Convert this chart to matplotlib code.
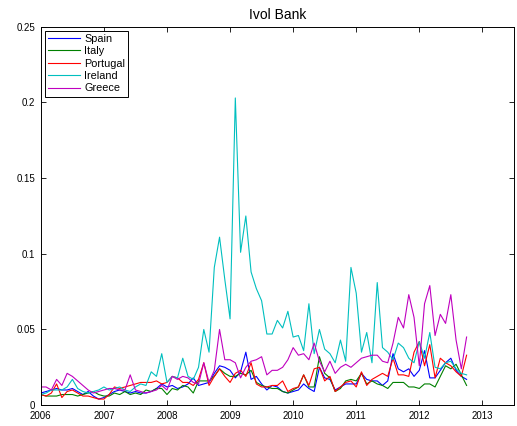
import numpy as np
import matplotlib
matplotlib.use('Agg')
import matplotlib.pyplot as plt

plt.rcParams['font.family'] = ['Liberation Sans', 'DejaVu Sans']

# monthly observations, Jan 2006 - Oct 2012
months = np.arange(82)
dates = 2006 + months / 12.0

spain = [0.008, 0.009, 0.010, 0.011, 0.010, 0.010, 0.011, 0.009, 0.007, 0.009, 0.006, 0.004,
         0.005, 0.007, 0.009, 0.010, 0.009, 0.008, 0.009, 0.008, 0.008, 0.009, 0.011,
         0.014, 0.012, 0.013, 0.011, 0.012, 0.014, 0.018, 0.013, 0.014, 0.015, 0.021, 0.026,
         0.025, 0.023, 0.018, 0.022, 0.035, 0.017, 0.019, 0.014, 0.010, 0.013, 0.012,
         0.009, 0.008, 0.009, 0.010, 0.014, 0.011, 0.009, 0.025, 0.018, 0.017, 0.010, 0.012,
         0.014, 0.014, 0.014, 0.021, 0.017, 0.016, 0.016, 0.013, 0.016,
         0.034, 0.024, 0.022, 0.024, 0.019, 0.023, 0.036, 0.018, 0.018, 0.023, 0.028, 0.031,
         0.023, 0.019, 0.017]
italy = [0.007, 0.006, 0.006, 0.006, 0.007, 0.007, 0.007, 0.006, 0.007, 0.008, 0.009, 0.007,
         0.006, 0.006, 0.008, 0.007, 0.009, 0.007, 0.008, 0.007, 0.010, 0.009, 0.011,
         0.011, 0.007, 0.011, 0.010, 0.013, 0.012, 0.008, 0.016, 0.016, 0.016, 0.019, 0.024,
         0.021, 0.019, 0.019, 0.021, 0.020, 0.023, 0.015, 0.013, 0.012, 0.011, 0.011,
         0.009, 0.008, 0.010, 0.012, 0.020, 0.012, 0.012, 0.032, 0.021, 0.018, 0.009, 0.011,
         0.016, 0.017, 0.016, 0.021, 0.014, 0.016, 0.014, 0.013, 0.011,
         0.015, 0.015, 0.015, 0.012, 0.012, 0.011, 0.014, 0.014, 0.012, 0.019, 0.026, 0.024,
         0.027, 0.020, 0.013]
portugal = [0.007, 0.006, 0.008, 0.014, 0.005, 0.009, 0.010, 0.008, 0.006, 0.006, 0.005, 0.004,
            0.004, 0.007, 0.012, 0.011, 0.012, 0.013, 0.014, 0.015, 0.015, 0.015, 0.016,
            0.014, 0.015, 0.019, 0.018, 0.015, 0.015, 0.013, 0.017, 0.028, 0.013, 0.019, 0.024,
            0.019, 0.015, 0.021, 0.023, 0.019, 0.028, 0.014, 0.012, 0.012, 0.013, 0.013,
            0.016, 0.009, 0.011, 0.012, 0.020, 0.013, 0.024, 0.025, 0.016, 0.019, 0.009, 0.012,
            0.015, 0.016, 0.012, 0.022, 0.013, 0.017, 0.019, 0.021, 0.019,
            0.031, 0.020, 0.020, 0.019, 0.035, 0.042, 0.026, 0.040, 0.018, 0.031, 0.028, 0.026,
            0.022, 0.019, 0.033]
ireland = [0.007, 0.008, 0.010, 0.010, 0.010, 0.012, 0.017, 0.011, 0.009, 0.008, 0.009, 0.010,
           0.012, 0.010, 0.011, 0.012, 0.010, 0.009, 0.012, 0.014, 0.013, 0.022, 0.019,
           0.034, 0.015, 0.019, 0.018, 0.031, 0.019, 0.017, 0.025, 0.050, 0.035, 0.091, 0.111,
           0.083, 0.057, 0.203, 0.101, 0.125, 0.088, 0.077, 0.069, 0.047, 0.047, 0.056,
           0.051, 0.062, 0.045, 0.046, 0.036, 0.067, 0.034, 0.050, 0.037, 0.034, 0.028, 0.043,
           0.029, 0.091, 0.074, 0.035, 0.048, 0.028, 0.081, 0.038, 0.035,
           0.030, 0.041, 0.038, 0.031, 0.028, 0.042, 0.031, 0.048, 0.025, 0.024, 0.028, 0.029,
           0.024, 0.021, 0.020]
greece = [0.012, 0.012, 0.010, 0.017, 0.013, 0.021, 0.019, 0.016, 0.013, 0.010, 0.008, 0.009,
          0.010, 0.011, 0.011, 0.010, 0.010, 0.020, 0.010, 0.009, 0.008, 0.009, 0.010,
          0.013, 0.010, 0.019, 0.017, 0.019, 0.018, 0.015, 0.014, 0.028, 0.015, 0.023, 0.050,
          0.030, 0.030, 0.028, 0.018, 0.025, 0.029, 0.030, 0.032, 0.020, 0.023, 0.023,
          0.025, 0.030, 0.038, 0.033, 0.034, 0.030, 0.041, 0.029, 0.022, 0.029, 0.021, 0.025,
          0.027, 0.025, 0.028, 0.031, 0.032, 0.033, 0.033, 0.029, 0.028,
          0.041, 0.058, 0.051, 0.073, 0.058, 0.026, 0.067, 0.079, 0.046, 0.060, 0.054, 0.073,
          0.043, 0.024, 0.045]

names = ['Spain', 'Italy', 'Portugal', 'Ireland', 'Greece']
colors = ['#0000ff', '#008000', '#ff0000', '#00bfbf', '#bf00bf']
series = [spain, italy, portugal, ireland, greece]
year_ticks = list(range(2006, 2014))

fig = plt.figure(figsize=(5.17, 4.26), dpi=100)
ax = fig.add_axes([0.079, 0.049, 0.915, 0.888])

for name, col, vals in zip(names, colors, series):
    ax.plot(dates, vals, color=col, linewidth=0.8, label=name)

ax.set_xlim(2006, 2013.5)
ax.set_ylim(0, 0.25)
ax.set_xticks(year_ticks)
ax.set_xticklabels([str(y) for y in year_ticks])
ax.set_yticks([0, 0.05, 0.1, 0.15, 0.2, 0.25])
ax.set_yticklabels(['0', '0.05', '0.1', '0.15', '0.2', '0.25'])
ax.tick_params(direction='in', top=True, right=True, length=3.5, width=0.6,
               labelsize=7)
ax.tick_params(axis='x', pad=4)
ax.tick_params(axis='y', pad=4)
for sp in ax.spines.values():
    sp.set_linewidth(0.7)

ax.set_title('Ivol Bank', fontsize=10, pad=6)

leg = ax.legend(loc='upper left', fontsize=7.8, frameon=True, fancybox=False,
                handlelength=3.0, handletextpad=0.35, labelspacing=0.22,
                borderpad=0.3, borderaxespad=0.35)
leg.get_frame().set_edgecolor('black')
leg.get_frame().set_linewidth(0.7)
leg.get_frame().set_alpha(1)

fig.savefig('out.png', dpi=100)
